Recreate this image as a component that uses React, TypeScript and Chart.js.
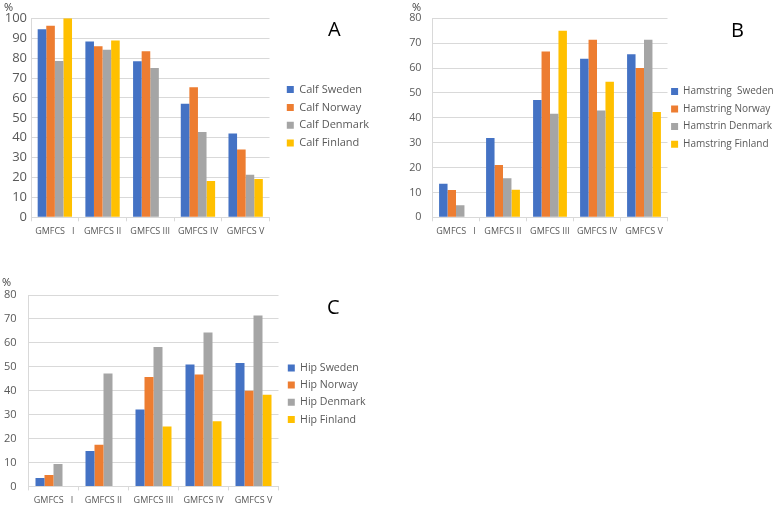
import React, { useEffect, useRef } from "react";
import { Chart, registerables } from "chart.js";

Chart.register(...registerables);

const FONT = "'Open Sans', sans-serif";
const TEXT = "#595959";
const GRID = "#d9d9d9";
const COLORS = ["#4472C4", "#ED7D31", "#A5A5A5", "#FFC000"];

const categories = ["GMFCS   I", "GMFCS II", "GMFCS III", "GMFCS IV", "GMFCS V"];

const calfNames = ["Calf Sweden", "Calf Norway", "Calf Denmark", "Calf Finland"];
const calfSweden = [94.5, 88.3, 78.4, 57.1, 42.1];
const calfNorway = [96.2, 86.0, 83.5, 65.4, 34.1];
const calfDenmark = [78.6, 84.2, 75.0, 42.9, 21.4];
const calfFinland = [100, 88.9, null, 18.2, 19.2];

const hamNames = ["Hamstring  Sweden", "Hamstring Norway", "Hamstrin Denmark", "Hamstring Finland"];
const hamSweden = [13.5, 31.9, 47.2, 63.7, 65.5];
const hamNorway = [11.0, 21.0, 66.7, 71.4, 60.0];
const hamDenmark = [4.8, 15.7, 41.6, 42.9, 71.4];
const hamFinland = [null, 11.1, 75.0, 54.5, 42.3];

const hipNames = ["Hip Sweden", "Hip Norway", "Hip Denmark", "Hip Finland"];
const hipSweden = [3.5, 14.8, 32.1, 50.9, 51.6];
const hipNorway = [4.8, 17.4, 45.7, 46.8, 40.0];
const hipDenmark = [9.4, 47.2, 58.3, 64.3, 71.4];
const hipFinland = [null, null, 25.0, 27.2, 38.3];

const yTickStep = 10;
const calfMax = 100;
const hamMax = 80;
const hipMax = 80;

type Panel = {
  left: number;
  top: number;
  width: number;
  height: number;
  plotLeft: number;
  plotRight: number;
  plotTop: number;
  plotBottom: number;
  yMax: number;
  names: string[];
  series: (number | null)[][];
  legendSize: number;
  legendPad: number;
  legendGap: number;
  legendDx: number;
  legendDy: number;
  tickPad: number;
  tickSize: number;
};

const panelA: Panel = {
  left: 0, top: 0, width: 400, height: 245,
  plotLeft: 31, plotRight: 269.5, plotTop: 18.3, plotBottom: 217.3,
  yMax: calfMax, names: calfNames,
  series: [calfSweden, calfNorway, calfDenmark, calfFinland],
  legendSize: 11, legendPad: 6.8, legendGap: 10.5, legendDx: 0, legendDy: -1.5,
  tickPad: 4, tickSize: 13,
};

const panelB: Panel = {
  left: 390, top: 0, width: 430, height: 245,
  plotLeft: 432.5, plotRight: 667.5, plotTop: 18.3, plotBottom: 217.3,
  yMax: hamMax, names: hamNames,
  series: [hamSweden, hamNorway, hamDenmark, hamFinland],
  legendSize: 10, legendPad: 7.6, legendGap: 0, legendDx: -4, legendDy: 0,
  tickPad: 11, tickSize: 10.8,
};

const panelC: Panel = {
  left: 0, top: 250, width: 400, height: 255,
  plotLeft: 28.5, plotRight: 278.5, plotTop: 295, plotBottom: 487.7,
  yMax: hipMax, names: hipNames,
  series: [hipSweden, hipNorway, hipDenmark, hipFinland],
  legendSize: 10.6, legendPad: 6.6, legendGap: 2.7, legendDx: 0, legendDy: 3,
  tickPad: 12, tickSize: 11,
};

function legendWidth(names: string[], size: number, pad: number, box: number) {
  const ctx = document.createElement("canvas").getContext("2d")!;
  ctx.font = `normal ${size}px ${FONT}`;
  const w = Math.max(...names.map((n) => ctx.measureText(n).width));
  return pad + box + size / 2 + w + 10;
}

function BarPanel({ p }: { p: Panel }) {
  const ref = useRef<HTMLCanvasElement>(null);
  useEffect(() => {
    const canvas = ref.current;
    if (!canvas) return;
    const box = 7;
    const lw = legendWidth(p.names, p.legendSize, p.legendPad, box);
    const padRight = Math.max(0, p.width - (p.plotRight - p.left) - p.legendGap - lw);
    const legendNudge = {
      id: "legendNudge",
      afterLayout(chart: any) {
        const lg = chart.legend;
        if (!lg) return;
        lg.left += p.legendDx;
        lg.right += p.legendDx;
        lg.top += p.legendDy;
        lg.bottom += p.legendDy;
      },
    };
    const chart = new Chart(canvas, {
      type: "bar",
      data: {
        labels: categories,
        datasets: p.series.map((s, i) => ({
          label: p.names[i],
          data: s,
          backgroundColor: COLORS[i],
          borderWidth: 0,
          xAxisID: "x",
          yAxisID: "y",
          categoryPercentage: 0.72,
          barPercentage: 1.0,
        })),
      },
      plugins: [legendNudge],
      options: {
        responsive: true,
        maintainAspectRatio: false,
        animation: false,
        layout: { padding: { top: p.plotTop - p.top, left: 0, right: padRight, bottom: 0 } },
        plugins: {
          tooltip: { enabled: false },
          legend: {
            position: "right",
            align: "center",
            fullSize: false,
            maxWidth: 1000,
            labels: {
              boxWidth: box,
              boxHeight: box,
              padding: p.legendPad,
              color: TEXT,
              font: { family: FONT, size: p.legendSize },
            },
          },
        },
        scales: {
          x: {
            type: "category",
            offset: true,
            grid: {
              display: true,
              drawOnChartArea: false,
              drawTicks: true,
              tickLength: 4,
              color: GRID,
              offset: true,
            },
            border: { display: true, color: GRID },
            ticks: {
              color: TEXT,
              font: { family: FONT, size: 9 },
              padding: 5,
              maxRotation: 0,
              autoSkip: false,
            },
            afterFit: (s: any) => {
              s.height = p.top + p.height - p.plotBottom;
            },
          },
          y: {
            type: "linear",
            position: "left",
            min: 0,
            max: p.yMax,
            ticks: {
              stepSize: yTickStep,
              color: TEXT,
              font: { family: FONT, size: p.tickSize },
              padding: p.tickPad,
            },
            grid: { color: GRID, drawTicks: false },
            border: { display: true, color: GRID },
            afterFit: (s: any) => {
              s.width = p.plotLeft - p.left;
            },
          },
          gap: {
            type: "linear",
            position: "right",
            display: true,
            grid: { display: false },
            border: { display: false },
            ticks: { display: false },
            afterFit: (s: any) => {
              s.width = p.legendGap;
            },
          },
        },
      } as any,
    });
    return () => chart.destroy();
  }, [p]);
  return (
    <div style={{ position: "absolute", left: p.left, top: p.top, width: p.width, height: p.height }}>
      <canvas ref={ref} />
    </div>
  );
}

const pctStyle: React.CSSProperties = {
  position: "absolute",
  fontFamily: FONT,
  fontSize: 11,
  color: "#404040",
  lineHeight: "15px",
  whiteSpace: "nowrap",
};

const letterStyle: React.CSSProperties = {
  position: "absolute",
  fontFamily: FONT,
  fontSize: 20,
  color: "#000",
  lineHeight: "27px",
};

export default function App() {
  return (
    <div
      style={{
        position: "absolute",
        left: 0,
        top: 0,
        width: 777,
        height: 505,
        overflow: "hidden",
        background: "#fff",
      }}
    >
      <BarPanel p={panelA} />
      <BarPanel p={panelB} />
      <BarPanel p={panelC} />
      <div style={{ ...pctStyle, left: 4, top: -1 }}>%</div>
      <div style={{ ...pctStyle, left: 412, top: -1 }}>%</div>
      <div style={{ ...pctStyle, left: 2, top: 274 }}>%</div>
      <div style={{ ...letterStyle, left: 328, top: 15 }}>A</div>
      <div style={{ ...letterStyle, left: 731, top: 16 }}>B</div>
      <div style={{ ...letterStyle, left: 327, top: 293 }}>C</div>
    </div>
  );
}
